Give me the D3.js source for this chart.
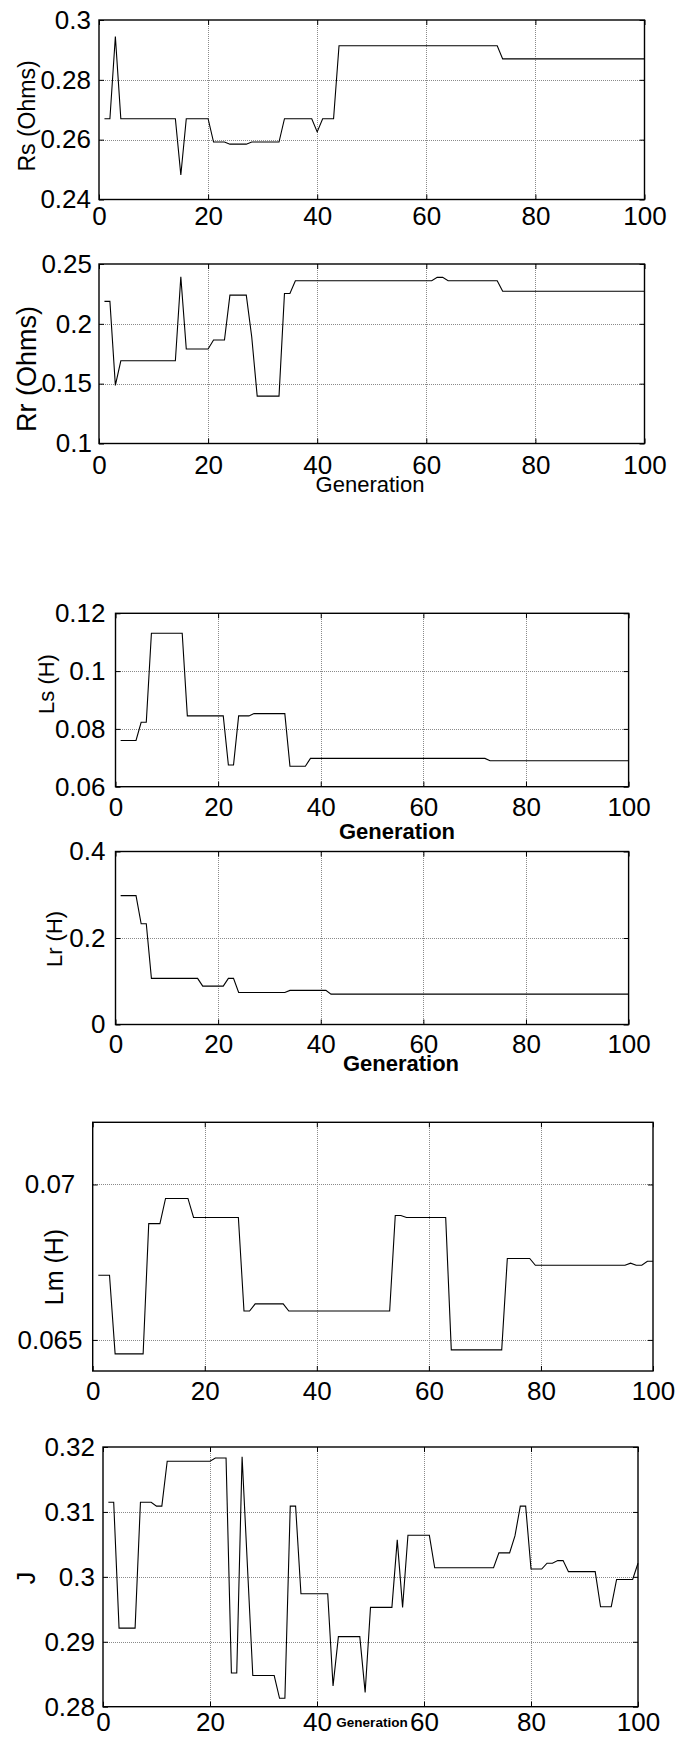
<!DOCTYPE html>
<html>
<head>
<meta charset="utf-8">
<script src="https://cdn.jsdelivr.net/npm/d3@7"></script>
<style>
  html, body { margin: 0; padding: 0; background: #fff; }
  svg { display: block; }
  text { font-family: "Liberation Sans", Arial, Helvetica, sans-serif; fill: #000; }
</style>
</head>
<body>
<svg id="chart" width="676" height="1742"></svg>
<script>
// Generation index shared by every panel
const generations = d3.range(1, 101);
const xTicks = [0, 20, 40, 60, 80, 100];

// Best-individual parameter values per generation
const rsValues = [
  .267,.267,.2945,.267,.267,.267,.267,.267,.267,.267,
  .267,.267,.267,.267,.2482,.267,.267,.267,.267,.267,
  .2592,.2592,.2592,.2585,.2585,.2585,.2585,.2592,.2592,.2592,
  .2592,.2592,.2592,.267,.267,.267,.267,.267,.267,.2626,
  .267,.267,.267,.2914,.2914,.2914,.2914,.2914,.2914,.2914,
  .2914,.2914,.2914,.2914,.2914,.2914,.2914,.2914,.2914,.2914,
  .2914,.2914,.2914,.2914,.2914,.2914,.2914,.2914,.2914,.2914,
  .2914,.2914,.2914,.287,.287,.287,.287,.287,.287,.287,
  .287,.287,.287,.287,.287,.287,.287,.287,.287,.287,
  .287,.287,.287,.287,.287,.287,.287,.287,.287,.287
];
const rrValues = [
  .2188,.2188,.1486,.1691,.1691,.1691,.1691,.1691,.1691,.1691,
  .1691,.1691,.1691,.1691,.2393,.179,.179,.179,.179,.179,
  .1865,.1865,.1865,.224,.224,.224,.224,.189,.1396,.1396,
  .1396,.1396,.1396,.2253,.2253,.236,.236,.236,.236,.236,
  .236,.236,.236,.236,.236,.236,.236,.236,.236,.236,
  .236,.236,.236,.236,.236,.236,.236,.236,.236,.236,
  .236,.2388,.2388,.236,.236,.236,.236,.236,.236,.236,
  .236,.236,.236,.2272,.2272,.2272,.2272,.2272,.2272,.2272,
  .2272,.2272,.2272,.2272,.2272,.2272,.2272,.2272,.2272,.2272,
  .2272,.2272,.2272,.2272,.2272,.2272,.2272,.2272,.2272,.2272
];
const lsValues = [
  .076,.076,.076,.076,.0823,.0823,.1131,.1131,.1131,.1131,
  .1131,.1131,.1131,.0845,.0845,.0845,.0845,.0845,.0845,.0845,
  .0845,.0675,.0675,.0845,.0845,.0845,.0853,.0853,.0853,.0853,
  .0853,.0853,.0853,.0671,.0671,.0671,.0671,.0698,.0698,.0698,
  .0698,.0698,.0698,.0698,.0698,.0698,.0698,.0698,.0698,.0698,
  .0698,.0698,.0698,.0698,.0698,.0698,.0698,.0698,.0698,.0698,
  .0698,.0698,.0698,.0698,.0698,.0698,.0698,.0698,.0698,.0698,
  .0698,.0698,.069,.069,.069,.069,.069,.069,.069,.069,
  .069,.069,.069,.069,.069,.069,.069,.069,.069,.069,
  .069,.069,.069,.069,.069,.069,.069,.069,.069,.069
];
const lrValues = [
  .298,.298,.298,.298,.233,.233,.1066,.1066,.1066,.1066,
  .1066,.1066,.1066,.1066,.1066,.1066,.0888,.0888,.0888,.0888,
  .0888,.1066,.1066,.0741,.0741,.0741,.0741,.0741,.0741,.0741,
  .0741,.0741,.0741,.0788,.0788,.0788,.0788,.0788,.0788,.0788,
  .0788,.0703,.0703,.0703,.0703,.0703,.0703,.0703,.0703,.0703,
  .0703,.0703,.0703,.0703,.0703,.0703,.0703,.0703,.0703,.0703,
  .0703,.0703,.0703,.0703,.0703,.0703,.0703,.0703,.0703,.0703,
  .0703,.0703,.0703,.0703,.0703,.0703,.0703,.0703,.0703,.0703,
  .0703,.0703,.0703,.0703,.0703,.0703,.0703,.0703,.0703,.0703,
  .0703,.0703,.0703,.0703,.0703,.0703,.0703,.0703,.0703,.0703
];
const lmValues = [
  .06708,.06708,.06708,.06455,.06455,.06455,.06455,.06455,.06455,.06874,
  .06874,.06874,.06955,.06955,.06955,.06955,.06955,.06894,.06894,.06894,
  .06894,.06894,.06894,.06894,.06894,.06894,.06593,.06593,.06616,.06616,
  .06616,.06616,.06616,.06616,.06593,.06593,.06593,.06593,.06593,.06593,
  .06593,.06593,.06593,.06593,.06593,.06593,.06593,.06593,.06593,.06593,
  .06593,.06593,.06593,.069,.069,.06894,.06894,.06894,.06894,.06894,
  .06894,.06894,.06894,.06468,.06468,.06468,.06468,.06468,.06468,.06468,
  .06468,.06468,.06468,.06762,.06762,.06762,.06762,.06762,.0674,.0674,
  .0674,.0674,.0674,.0674,.0674,.0674,.0674,.0674,.0674,.0674,
  .0674,.0674,.0674,.0674,.0674,.06747,.0674,.0674,.06753,.06753
];
const jValues = [
  .3115,.3115,.2921,.2921,.2921,.2921,.3115,.3115,.3115,.3109,
  .3109,.3178,.3178,.3178,.3178,.3178,.3178,.3178,.3178,.3178,
  .3183,.3183,.3183,.2852,.2852,.3185,.3016,.2848,.2848,.2848,
  .2848,.2848,.2813,.2813,.3109,.3109,.2974,.2974,.2974,.2974,
  .2974,.2974,.2832,.2908,.2908,.2908,.2908,.2908,.2822,.2953,
  .2953,.2953,.2953,.2953,.3057,.2953,.3064,.3064,.3064,.3064,
  .3064,.3014,.3014,.3014,.3014,.3014,.3014,.3014,.3014,.3014,
  .3014,.3014,.3014,.3037,.3037,.3037,.3063,.3109,.3109,.3012,
  .3012,.3012,.3021,.3021,.3025,.3025,.3008,.3008,.3008,.3008,
  .3008,.3008,.2954,.2954,.2954,.2996,.2996,.2996,.2996,.3021
];

// Y tick labels per panel
const rsTicks = [0.24, 0.26, 0.28, 0.3];
const rrTicks = [0.1, 0.15, 0.2, 0.25];
const lsTicks = [0.06, 0.08, 0.1, 0.12];
const lrTicks = [0, 0.2, 0.4];
const lmTicks = [0.065, 0.07];
const jTicks = [0.28, 0.29, 0.3, 0.31, 0.32];

// Panel layout
const panels = [
  { values: rsValues, yTicks: rsTicks, domain: [0.24, 0.3], fmt: d => String(d),
    box: [99, 644.5, 20, 199.5], ylabel: "Rs (Ohms)", ylx: 35, yly: 116, ylSize: 23,
    xPad: 7, yPad: 8 },
  { values: rrValues, yTicks: rrTicks, domain: [0.1, 0.25], fmt: d => String(d),
    box: [99, 644.5, 264, 443.5], ylabel: "Rr (Ohms)", ylx: 36, yly: 369, ylSize: 27,
    xPad: 12, yPad: 7,
    xlabel: { text: "Generation", x: 370, y: 492, size: 22, weight: "normal" } },
  { values: lsValues, yTicks: lsTicks, domain: [0.06, 0.12], fmt: d => String(d),
    box: [115.5, 628.6, 613.3, 786.7], ylabel: "Ls (H)", ylx: 54, yly: 684, ylSize: 22,
    xPad: 11, yPad: 10,
    xlabel: { text: "Generation", x: 397, y: 839, size: 22, weight: "bold" } },
  { values: lrValues, yTicks: lrTicks, domain: [0, 0.4], fmt: d => String(d),
    box: [115.5, 628.6, 851.5, 1024.5], ylabel: "Lr (H)", ylx: 62, yly: 939, ylSize: 22,
    xPad: 10, yPad: 10,
    xlabel: { text: "Generation", x: 401, y: 1071, size: 22, weight: "bold" } },
  { values: lmValues, yTicks: lmTicks, domain: [0.064, 0.072], fmt: d => String(d),
    box: [92.7, 653, 1122.3, 1371], ylabel: "Lm (H)", ylx: 63, yly: 1267, ylSize: 25,
    xPad: 11, yPad: 10, yLabelCenter: 50 },
  { values: jValues, yTicks: jTicks, domain: [0.28, 0.32], fmt: d => String(d),
    box: [103, 638, 1447, 1706.7], ylabel: "J", ylx: 35, yly: 1578, ylSize: 25,
    xPad: 6, yPad: 8,
    xlabel: { text: "Generation", x: 372, y: 1727, size: 13.5, weight: "bold" } }
];

const svg = d3.select("#chart");
svg.append("rect").attr("width", 676).attr("height", 1742).attr("fill", "#fff");

const tickFont = 26;

panels.forEach(p => {
  const [l, r, t, b] = p.box;
  const x = d3.scaleLinear().domain([0, 100]).range([l, r]);
  const y = d3.scaleLinear().domain(p.domain).range([b, t]);
  const g = svg.append("g");

  // dotted grid
  const grid = g.append("g").attr("stroke", "#8a8a8a").attr("stroke-width", 1)
    .attr("stroke-dasharray", "1,1").attr("shape-rendering", "crispEdges");
  grid.selectAll("line.v").data(xTicks.filter(d => d > 0 && d < 100)).join("line")
    .attr("x1", d => Math.round(x(d)) + 0.5).attr("x2", d => Math.round(x(d)) + 0.5)
    .attr("y1", t).attr("y2", b);
  grid.selectAll("line.h").data(p.yTicks.filter(d => d > p.domain[0] && d < p.domain[1])).join("line")
    .attr("y1", d => Math.round(y(d)) + 0.5).attr("y2", d => Math.round(y(d)) + 0.5)
    .attr("x1", l).attr("x2", r);

  // data trace
  const line = d3.line().x((d, i) => x(generations[i])).y(d => y(d));
  g.append("path").datum(p.values).attr("d", line)
    .attr("fill", "none").attr("stroke", "#000").attr("stroke-width", 1.1)
    .attr("stroke-linejoin", "miter");

  // axes: inward ticks on all four sides
  const bottom = g.append("g").attr("transform", `translate(0,${b})`)
    .call(d3.axisBottom(x).tickValues(xTicks).tickSizeInner(-5).tickSizeOuter(0).tickPadding(p.xPad));
  const top = g.append("g").attr("transform", `translate(0,${t})`)
    .call(d3.axisTop(x).tickValues(xTicks).tickSizeInner(-5).tickSizeOuter(0).tickFormat(""));
  const left = g.append("g").attr("transform", `translate(${l},0)`)
    .call(d3.axisLeft(y).tickValues(p.yTicks).tickSizeInner(-5).tickSizeOuter(0).tickPadding(p.yPad).tickFormat(p.fmt));
  const right = g.append("g").attr("transform", `translate(${r},0)`)
    .call(d3.axisRight(y).tickValues(p.yTicks).tickSizeInner(-5).tickSizeOuter(0).tickFormat(""));

  [bottom, top, left, right].forEach(a => {
    a.select(".domain").remove();
    a.selectAll(".tick line").attr("stroke", "#000").attr("stroke-width", 1);
    a.selectAll("text").attr("font-size", tickFont)
      .attr("font-family", "'Liberation Sans', Arial, sans-serif").attr("fill", "#000");
  });
  if (p.yLabelCenter) {
    left.selectAll(".tick text").attr("text-anchor", "middle").attr("x", p.yLabelCenter - l);
  }

  // frame
  g.append("rect").attr("x", l).attr("y", t).attr("width", r - l).attr("height", b - t)
    .attr("fill", "none").attr("stroke", "#000").attr("stroke-width", 1.4);

  // y label
  g.append("text").attr("transform", `translate(${p.ylx},${p.yly}) rotate(-90)`)
    .attr("text-anchor", "middle").attr("font-size", p.ylSize).text(p.ylabel);

  // x label
  if (p.xlabel) {
    g.append("text").attr("x", p.xlabel.x).attr("y", p.xlabel.y)
      .attr("text-anchor", "middle").attr("font-size", p.xlabel.size)
      .attr("font-weight", p.xlabel.weight).text(p.xlabel.text);
  }
});
</script>
</body>
</html>
